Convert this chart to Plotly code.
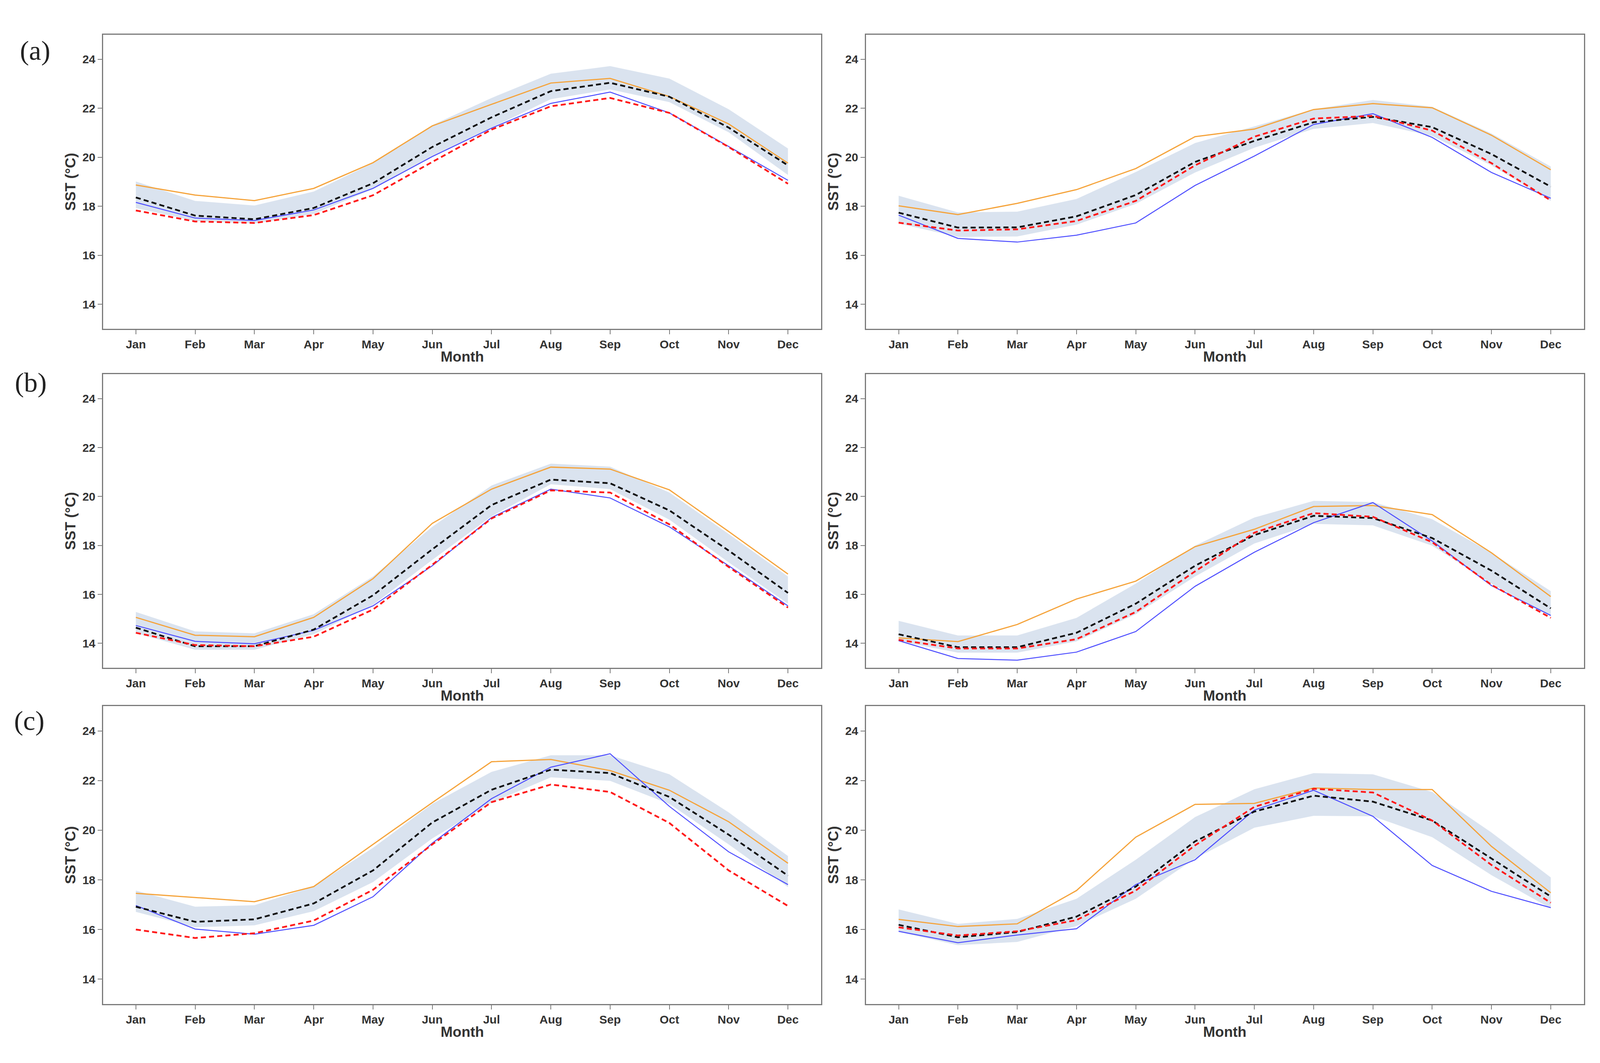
import plotly.graph_objects as go

# ---------------- data ----------------
MONTHS = ["Jan", "Feb", "Mar", "Apr", "May", "Jun", "Jul", "Aug", "Sep", "Oct", "Nov", "Dec"]
X = list(range(12))
Y_TICKS = [14, 16, 18, 20, 22, 24]
PANEL_LABELS = ["(a)", "(b)", "(c)"]

# Row (a), left
A1_ORANGE = [18.87, 18.46, 18.23, 18.73, 19.78, 21.28, 22.16, 23.03, 23.22, 22.48, 21.36, 19.76]
A1_BLUE = [18.16, 17.52, 17.42, 17.85, 18.73, 20.03, 21.19, 22.20, 22.66, 21.81, 20.44, 19.06]
A1_MEAN = [18.36, 17.62, 17.47, 17.93, 18.94, 20.42, 21.63, 22.70, 23.04, 22.47, 21.21, 19.67]
A1_RED = [17.83, 17.38, 17.32, 17.64, 18.45, 19.81, 21.13, 22.08, 22.42, 21.81, 20.42, 18.92]
A1_HI = [19.01, 18.22, 18.03, 18.60, 19.76, 21.31, 22.42, 23.41, 23.72, 23.21, 21.96, 20.36]
A1_LO = [17.93, 17.40, 17.30, 17.69, 18.70, 20.05, 21.21, 22.37, 22.77, 22.25, 21.02, 19.28]

# Row (a), right
A2_ORANGE = [18.02, 17.66, 18.12, 18.68, 19.54, 20.84, 21.15, 21.95, 22.19, 22.02, 20.90, 19.49]
A2_BLUE = [17.64, 16.69, 16.54, 16.82, 17.32, 18.85, 20.05, 21.34, 21.78, 20.81, 19.38, 18.33]
A2_MEAN = [17.74, 17.13, 17.14, 17.59, 18.46, 19.81, 20.67, 21.43, 21.65, 21.23, 20.13, 18.80]
A2_RED = [17.33, 17.01, 17.06, 17.40, 18.22, 19.67, 20.84, 21.58, 21.69, 21.09, 19.76, 18.24]
A2_HI = [18.43, 17.75, 17.78, 18.30, 19.40, 20.58, 21.26, 21.96, 22.34, 22.06, 20.97, 19.62]
A2_LO = [17.30, 16.75, 16.77, 17.25, 18.10, 19.38, 20.39, 21.16, 21.40, 20.87, 19.67, 18.22]

# Row (b), left
B1_ORANGE = [15.06, 14.33, 14.27, 15.06, 16.64, 18.90, 20.30, 21.20, 21.12, 20.27, 18.57, 16.83]
B1_BLUE = [14.73, 14.08, 13.98, 14.53, 15.53, 17.17, 19.14, 20.30, 19.94, 18.76, 17.17, 15.53]
B1_MEAN = [14.64, 13.88, 13.88, 14.56, 15.96, 17.84, 19.65, 20.69, 20.54, 19.43, 17.79, 16.06]
B1_RED = [14.43, 13.93, 13.88, 14.27, 15.38, 17.21, 19.10, 20.25, 20.16, 18.86, 17.12, 15.46]
B1_HI = [15.28, 14.49, 14.41, 15.19, 16.73, 18.76, 20.45, 21.34, 21.22, 20.16, 18.47, 16.73]
B1_LO = [14.42, 13.74, 13.74, 14.37, 15.57, 17.41, 19.19, 20.50, 20.30, 19.05, 17.31, 15.62]

# Row (b), right
B2_ORANGE = [14.22, 14.07, 14.77, 15.81, 16.54, 17.95, 18.66, 19.59, 19.63, 19.26, 17.70, 15.91]
B2_BLUE = [14.11, 13.38, 13.31, 13.64, 14.48, 16.33, 17.72, 18.93, 19.75, 18.18, 16.36, 15.14]
B2_MEAN = [14.37, 13.84, 13.84, 14.43, 15.62, 17.17, 18.42, 19.21, 19.12, 18.30, 16.97, 15.43]
B2_RED = [14.14, 13.79, 13.79, 14.17, 15.28, 16.94, 18.52, 19.32, 19.17, 18.13, 16.39, 15.04]
B2_HI = [14.92, 14.32, 14.32, 15.04, 16.44, 17.99, 19.14, 19.82, 19.77, 19.07, 17.70, 16.13]
B2_LO = [14.09, 13.62, 13.62, 14.08, 15.19, 16.73, 18.08, 18.88, 18.82, 17.99, 16.44, 15.09]

# Row (c), left
C1_ORANGE = [17.46, 17.29, 17.12, 17.73, 19.43, 21.11, 22.76, 22.85, 22.40, 21.61, 20.34, 18.67]
C1_BLUE = [16.97, 16.02, 15.81, 16.17, 17.32, 19.48, 21.27, 22.54, 23.08, 20.96, 19.13, 17.81]
C1_MEAN = [16.92, 16.31, 16.41, 17.05, 18.38, 20.31, 21.63, 22.44, 22.30, 21.34, 19.82, 18.17]
C1_RED = [16.00, 15.66, 15.85, 16.36, 17.60, 19.43, 21.13, 21.84, 21.54, 20.29, 18.38, 16.95]
C1_HI = [17.57, 16.92, 16.98, 17.73, 19.29, 21.06, 22.35, 23.02, 23.02, 22.25, 20.72, 18.96]
C1_LO = [16.71, 16.09, 16.17, 16.74, 17.91, 19.67, 21.11, 22.13, 21.99, 21.06, 19.43, 17.71]

# Row (c), right
C2_ORANGE = [16.41, 16.12, 16.23, 17.57, 19.72, 21.04, 21.08, 21.70, 21.64, 21.64, 19.35, 17.48]
C2_BLUE = [15.93, 15.47, 15.78, 16.03, 17.81, 18.81, 20.81, 21.61, 20.56, 18.58, 17.54, 16.88]
C2_MEAN = [16.19, 15.69, 15.90, 16.52, 17.73, 19.55, 20.75, 21.39, 21.15, 20.39, 18.86, 17.33]
C2_RED = [16.09, 15.76, 15.93, 16.38, 17.57, 19.39, 20.94, 21.67, 21.52, 20.39, 18.60, 17.08]
C2_HI = [16.81, 16.23, 16.43, 17.24, 18.81, 20.53, 21.65, 22.30, 22.25, 21.54, 19.91, 18.10]
C2_LO = [15.90, 15.37, 15.50, 16.14, 17.24, 18.86, 20.10, 20.58, 20.56, 19.72, 18.19, 16.85]

PANELS = [
    (A1_ORANGE, A1_BLUE, A1_MEAN, A1_RED, A1_HI, A1_LO),
    (A2_ORANGE, A2_BLUE, A2_MEAN, A2_RED, A2_HI, A2_LO),
    (B1_ORANGE, B1_BLUE, B1_MEAN, B1_RED, B1_HI, B1_LO),
    (B2_ORANGE, B2_BLUE, B2_MEAN, B2_RED, B2_HI, B2_LO),
    (C1_ORANGE, C1_BLUE, C1_MEAN, C1_RED, C1_HI, C1_LO),
    (C2_ORANGE, C2_BLUE, C2_MEAN, C2_RED, C2_HI, C2_LO),
]

# ---------------- geometry ----------------
# The page viewport is 4096 px wide; positions measured on the 4386-wide reference
# are scaled horizontally to fit it.
REF_W = 4386
W, H = 4096, 2722
SX = W / REF_W

COLS_REF = [(283, 2251), (2374, 4342)]
ROWS = [(89, 842), (958, 1710), (1808, 2571)]
LABEL_POS_REF = [(96, 130), (85, 979), (80, 1845)]

TICK_FONT = dict(family="Liberation Sans, Arial, sans-serif", size=30, color="#333333", weight="bold")
TITLE_FONT = dict(family="Liberation Sans, Arial, sans-serif", size=37, color="#333333", weight="bold")
FRAME = "#7a7a7a"

ORANGE = "#f5a33a"
BLUE = "#4d4dff"
RED = "#ff1a1a"
BLACK = "#111111"
BAND = "rgba(176,196,222,0.47)"

fig = go.Figure()
annotations = []
layout = {}

for i, (orange, blue, mean, red, hi, lo) in enumerate(PANELS):
    r, c = divmod(i, 2)
    n = i + 1
    xs = "x" if n == 1 else f"x{n}"
    ys = "y" if n == 1 else f"y{n}"
    xl, xr = COLS_REF[c][0] * SX, COLS_REF[c][1] * SX
    yt, yb = ROWS[r]

    fig.add_trace(go.Scatter(x=X, y=hi, xaxis=xs, yaxis=ys, mode="lines",
                             line=dict(width=0, color=BAND), showlegend=False, hoverinfo="skip"))
    fig.add_trace(go.Scatter(x=X, y=lo, xaxis=xs, yaxis=ys, mode="lines", fill="tonexty",
                             fillcolor=BAND, line=dict(width=0, color=BAND), showlegend=False,
                             hoverinfo="skip"))
    fig.add_trace(go.Scatter(x=X, y=orange, xaxis=xs, yaxis=ys, mode="lines",
                             line=dict(color=ORANGE, width=3), showlegend=False))
    fig.add_trace(go.Scatter(x=X, y=blue, xaxis=xs, yaxis=ys, mode="lines",
                             line=dict(color=BLUE, width=2.5), showlegend=False))
    fig.add_trace(go.Scatter(x=X, y=mean, xaxis=xs, yaxis=ys, mode="lines",
                             line=dict(color=BLACK, width=4.5, dash="13px,8px"), showlegend=False))
    fig.add_trace(go.Scatter(x=X, y=red, xaxis=xs, yaxis=ys, mode="lines",
                             line=dict(color=RED, width=4.5, dash="13px,8px"), showlegend=False))

    xkey = "xaxis" if n == 1 else f"xaxis{n}"
    ykey = "yaxis" if n == 1 else f"yaxis{n}"
    layout[xkey] = dict(
        domain=[xl / W, xr / W], anchor=ys, range=[-0.55, 11.56],
        tickmode="array", tickvals=X, ticktext=MONTHS,
        ticks="outside", ticklen=11, tickwidth=2, tickcolor=FRAME,
        showline=True, linecolor=FRAME, linewidth=3, mirror=True,
        showgrid=False, zeroline=False, tickfont=TICK_FONT, automargin=False,
    )
    layout[ykey] = dict(
        domain=[1 - yb / H, 1 - yt / H], anchor=xs, range=[13, 25],
        tickmode="array", tickvals=Y_TICKS,
        ticks="outside", ticklen=11, tickwidth=2, tickcolor=FRAME,
        showline=True, linecolor=FRAME, linewidth=3, mirror=True,
        showgrid=False, zeroline=False, tickfont=TICK_FONT, automargin=False,
    )

    annotations.append(dict(text="SST (°C)", xref="paper", yref="paper",
                            x=(xl - 84) / W, y=1 - (yt + yb) / 2 / H, textangle=-90,
                            xanchor="center", yanchor="middle", showarrow=False, font=TITLE_FONT))
    annotations.append(dict(text="Month", xref="paper", yref="paper",
                            x=(xl + xr) / 2 / W, y=1 - (yb + 71) / H,
                            xanchor="center", yanchor="middle", showarrow=False, font=TITLE_FONT))

for (px, py), lab in zip(LABEL_POS_REF, PANEL_LABELS):
    annotations.append(dict(text=lab, xref="paper", yref="paper", x=px * SX / W, y=1 - py / H,
                            xanchor="center", yanchor="middle", showarrow=False,
                            font=dict(family="Liberation Serif, Times New Roman, serif",
                                      size=70, color="#222222")))

fig.update_layout(
    width=W, height=H, margin=dict(l=0, r=0, t=0, b=0),
    paper_bgcolor="white", plot_bgcolor="white",
    annotations=annotations, showlegend=False, **layout,
)

fig.write_html("out.html", config={"displayModeBar": False},
               post_script="document.body.style.margin='0px';")
